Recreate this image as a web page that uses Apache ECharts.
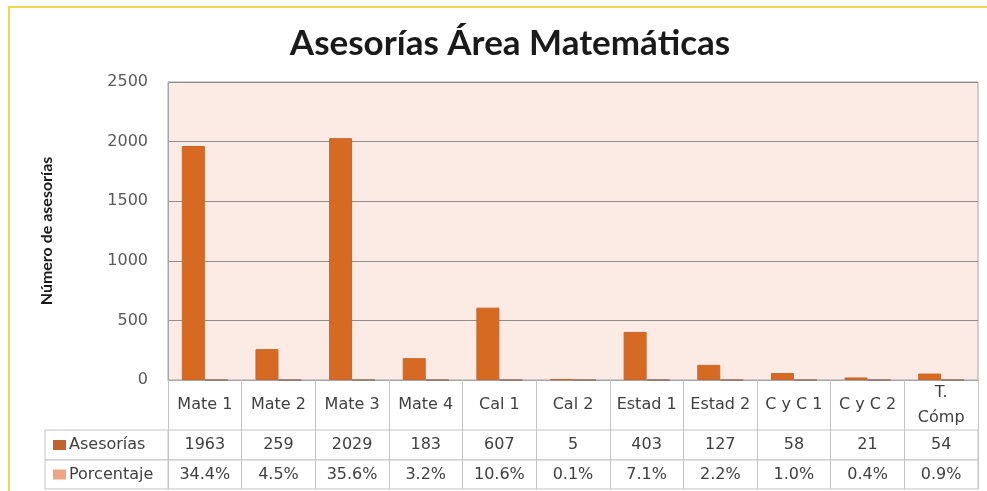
<!DOCTYPE html>
<html>
<head>
<meta charset="utf-8">
<title>Asesorías Área Matemáticas</title>
<script src="https://cdn.jsdelivr.net/npm/echarts@6/dist/echarts.min.js"></script>
<style>
    html, body { margin: 0; padding: 0; background: #fff; }
    #charts-1 { width: 987px; height: 491px; }
</style>
</head>
<body>
<div id="charts-1"></div>
<script>
// datos de la tabla
var categorias = ['Mate 1', 'Mate 2', 'Mate 3', 'Mate 4', 'Cal 1', 'Cal 2', 'Estad 1', 'Estad 2', 'C y C 1', 'C y C 2', 'T.\nCómp'];
var asesorias = [1963, 259, 2029, 183, 607, 5, 403, 127, 58, 21, 54];
var porcentaje = [34.4, 4.5, 35.6, 3.2, 10.6, 0.1, 7.1, 2.2, 1.0, 0.4, 0.9];
var ticksY = [0, 500, 1000, 1500, 2000, 2500];

(function() {
    var colorAse = '#D76A22',
        colorPor = '#EDA482',
        lineTabla = '#c4c4c4',
        txt = '#404040',
        fuente = 'DejaVu Sans',
        tam = 16;

    // porcentaje va en el mismo eje (0.344 etc.), casi no se ve
    var porData = porcentaje.map(function(v) { return v / 100; });

    // fila de la tabla: eje categorias arriba, texto dentro de la celda
    function filaX(idx, alto, fmt) {
        return {
            gridIndex: idx,
            type: 'category',
            data: categorias,
            position: 'top',
            axisLine: {show: false},
            axisTick: {show: false},
            splitLine: {show: true, interval: 0, lineStyle: {color: lineTabla}},
            axisLabel: {
                inside: true,
                interval: 0,
                margin: alto / 2,
                verticalAlign: 'middle',
                fontFamily: fuente,
                fontSize: tam,
                color: txt,
                formatter: fmt
            }
        };
    }

    function leyendaY(idx, nombre, color) {
        return {
            gridIndex: idx,
            type: 'category',
            data: [nombre],
            axisLine: {show: false},
            axisTick: {show: false},
            axisLabel: {
                inside: true,
                margin: 8,
                align: 'left',
                fontFamily: fuente,
                fontSize: tam,
                color: txt,
                formatter: function(v) { return '{m|}{t|' + v + '}'; },
                rich: {
                    m: {width: 13, height: 10, backgroundColor: color},
                    t: {fontFamily: fuente, fontSize: tam, color: txt, padding: [0, 0, 0, 3]}
                }
            }
        };
    }

    var option = {
        animation: false,
        backgroundColor: '#fff',
        title: {
            text: 'Asesorías Área Matemáticas',
            left: 505,
            top: 21,
            textAlign: 'center',
            textStyle: {fontFamily: 'Lato', fontWeight: 'bold', fontSize: 35, color: '#1a1a1a'}
        },
        graphic: [{
            type: 'rect',
            shape: {x: 9, y: 7, width: 1000, height: 500},
            style: {fill: 'none', stroke: '#F2D64B', lineWidth: 2},
            silent: true
        }],
        grid: [
            {left: 168, right: 9, top: 82, height: 298, show: true, backgroundColor: '#FCEAE4', borderColor: '#a6a6a6'},
            {left: 168, right: 9, top: 430, height: 30, show: true, backgroundColor: '#fff', borderColor: lineTabla},
            {left: 168, right: 9, top: 460, height: 29, show: true, backgroundColor: '#fff', borderColor: lineTabla},
            {left: 45, width: 123, top: 430, height: 30, show: true, backgroundColor: '#fff', borderColor: lineTabla},
            {left: 45, width: 123, top: 460, height: 29, show: true, backgroundColor: '#fff', borderColor: lineTabla}
        ],
        xAxis: [
            {
                gridIndex: 0,
                type: 'category',
                data: categorias,
                axisLine: {lineStyle: {color: '#a6a6a6'}},
                axisTick: {show: true, interval: 0, length: 50, lineStyle: {color: lineTabla}},
                axisLabel: {
                    interval: 0,
                    margin: 25,
                    verticalAlign: 'middle',
                    lineHeight: 25,
                    fontFamily: fuente,
                    fontSize: tam,
                    color: txt
                }
            },
            filaX(1, 30, function(v, i) { return String(asesorias[i]); }),
            filaX(2, 29, function(v, i) { return porcentaje[i].toFixed(1) + '%'; }),
            {gridIndex: 3, type: 'value', show: false},
            {gridIndex: 4, type: 'value', show: false}
        ],
        yAxis: [
            {
                gridIndex: 0,
                type: 'value',
                min: ticksY[0],
                max: ticksY[ticksY.length - 1],
                interval: ticksY[1] - ticksY[0],
                name: 'Número de asesorías',
                nameLocation: 'middle',
                nameRotate: 90,
                nameGap: 113,
                nameTextStyle: {fontFamily: 'Lato', fontWeight: 'bold', fontSize: 16, color: '#1a1a1a'},
                axisLine: {show: true, lineStyle: {color: '#a6a6a6'}},
                axisTick: {show: false},
                splitLine: {lineStyle: {color: '#8c8c8c'}},
                axisLabel: {
                    margin: 20,
                    fontFamily: fuente,
                    fontSize: tam,
                    color: '#595959',
                    formatter: function(v) { return String(v); }
                }
            },
            {gridIndex: 1, type: 'value', show: false},
            {gridIndex: 2, type: 'value', show: false},
            leyendaY(3, 'Asesorías', '#C2622C'),
            leyendaY(4, 'Porcentaje', colorPor)
        ],
        series: [
            {
                name: 'Asesorías',
                type: 'bar',
                xAxisIndex: 0,
                yAxisIndex: 0,
                barWidth: 23,
                barGap: '0%',
                itemStyle: {color: colorAse, borderColor: '#C8662A', borderWidth: 1},
                data: asesorias
            },
            {
                name: 'Porcentaje',
                type: 'bar',
                xAxisIndex: 0,
                yAxisIndex: 0,
                barWidth: 23,
                barGap: '0%',
                itemStyle: {color: colorPor, borderColor: '#9a7060', borderWidth: 1},
                data: porData
            }
        ]
    };

    var charts1 = echarts.init(document.getElementById('charts-1'));
    charts1.setOption(option);
})();
</script>
</body>
</html>
